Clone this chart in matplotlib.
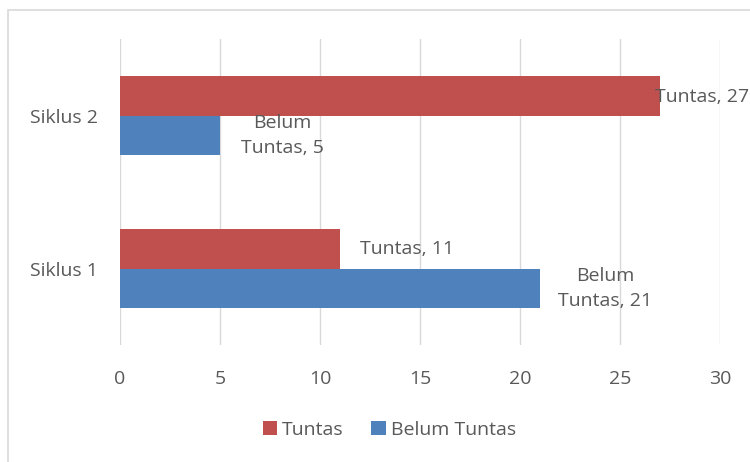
import matplotlib.pyplot as plt
import matplotlib.patches as mpatches
import numpy as np

plt.rcParams['font.family'] = ['Open Sans', 'DejaVu Sans']

siklus = ["Siklus 1", "Siklus 2"]
tuntas = [11, 27]
belum = [21, 5]
xticks = [0, 5, 10, 15, 20, 25, 30]

teks = "#595959"
merah = "#C0504D"
biru = "#4F81BD"
garis = "#D9D9D9"
fs = 14

fig = plt.figure(figsize=(7.5, 4.62), dpi=100)
ax = fig.add_axes([0.16, 0.2532, 0.8, 0.6623])

y = np.arange(len(siklus))
h = 0.26
ax.barh(y + h / 2, tuntas, height=h, color=merah, label="Tuntas", zorder=3)
ax.barh(y - h / 2, belum, height=h, color=biru, label="Belum Tuntas", zorder=3)

ax.set_xlim(0, 30)
ax.set_ylim(-0.5, 1.5)
ax.set_xticks(xticks)
ax.set_yticks(y)
ax.set_yticklabels(siklus)
ax.grid(axis="x", color=garis, linewidth=1, zorder=0)
for s in ax.spines.values():
    s.set_visible(False)
ax.tick_params(length=0, labelsize=fs, colors=teks)
ax.tick_params(axis="x", pad=18)
ax.tick_params(axis="y", pad=16)

# label data (posisi kira-kira seperti di gambar)
ax.text(tuntas[1] - 0.25, 1 + h / 2 - 0.01, "Tuntas, 27", ha="left", va="center", fontsize=fs, color=teks, zorder=4)
ax.text(belum[1] + 3.1, 1 - h / 2, "Belum\nTuntas, 5", ha="center", va="center", fontsize=fs, color=teks,
        linespacing=1.5, zorder=4)
ax.text(tuntas[0] + 3.35, 0 + h / 2, "Tuntas, 11", ha="center", va="center", fontsize=fs, color=teks, zorder=4)
ax.text(belum[0] + 3.25, 0 - h / 2, "Belum\nTuntas, 21", ha="center", va="center", fontsize=fs, color=teks,
        linespacing=1.5, zorder=4)

# bingkai chart
fig.patches.append(mpatches.Rectangle((8 / 750, -0.1), 1.2, 1 - 10 / 462 + 0.1, transform=fig.transFigure,
                                      fill=False, edgecolor=garis, linewidth=1.2))

fig.legend(loc="center", bbox_to_anchor=(0.519, 0.069), ncol=2, frameon=False, fontsize=fs,
           handlelength=0.75, handleheight=0.75, handletextpad=0.25, columnspacing=1.4, labelcolor=teks)

fig.savefig("out.png", dpi=100)
